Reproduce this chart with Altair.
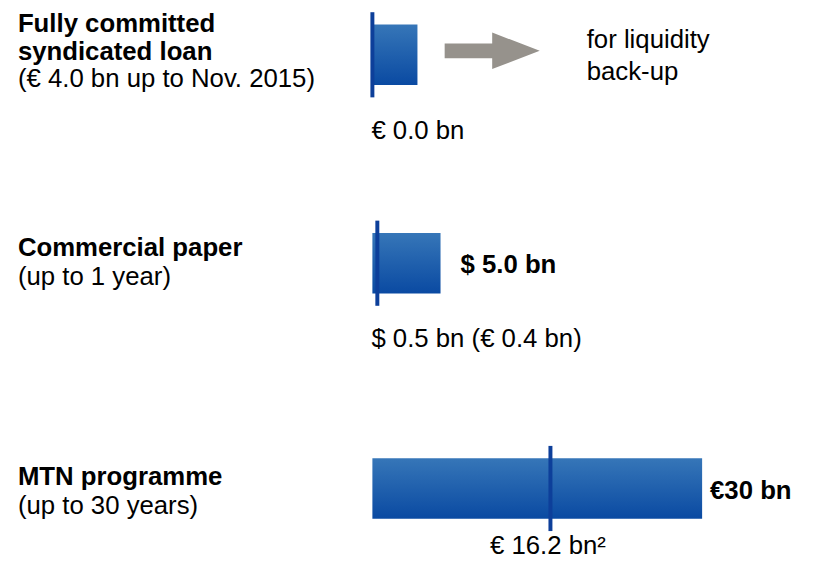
import altair as alt
import pandas as pd

# ---- data (bar units: € bn-equivalent as drawn) ----
facilities = ["Syndicated loan", "Commercial paper", "MTN programme"]
facility_limit = [4.1, 6.2, 30.0]
facility_used = [0.0, 0.45, 16.2]
title_lines = [["Fully committed", "syndicated loan"], ["Commercial paper"], ["MTN programme"]]
subtitles = ["(€ 4.0 bn up to Nov. 2015)", "(up to 1 year)", "(up to 30 years)"]
limit_labels = ["", "$ 5.0 bn", "€30 bn"]
used_labels = ["€ 0.0 bn", "$ 0.5 bn (€ 0.4 bn)", "€ 16.2 bn²"]
note_lines = ["for liquidity", "back-up"]

FONT = "Liberation Sans"
FS = 26
BAR_TOP = "#3676b8"
BAR_BOTTOM = "#0a4aa2"
MARK_COLOR = "#0d3f9a"
ARROW_COLOR = "#96928c"
TEXT = dict(color="#000000")

xscale = alt.Scale(domain=[0, 30], range=[368, 701], nice=False, zero=True)
gradient = alt.Gradient(
    gradient="linear",
    stops=[alt.GradientStop(color=BAR_TOP, offset=0), alt.GradientStop(color=BAR_BOTTOM, offset=1)],
    x1=1, x2=1, y1=0, y2=1,
)

# per-row layout (pixel offsets relative to each bar's centre)
layout = [
    dict(h=87, title_dy=-23.5, sub_dy=32.5, used_dy=85, used_at="start", used_dx=-1, limit_dy=11, lim_px=0),
    dict(h=334, title_dy=-7, sub_dy=22, used_dy=85, used_at="start", used_dx=-1, limit_dy=10, lim_px=457),
    dict(h=121, title_dy=-3.5, sub_dy=25.5, used_dy=66, used_at="marker", used_dx=-2.5, limit_dy=11, lim_px=709),
]

panels = []
for i, name in enumerate(facilities):
    L = layout[i]
    df = pd.DataFrame({
        "facility": [name],
        "limit": [facility_limit[i]],
        "used": [facility_used[i]],
        "title": [title_lines[i]],
        "subtitle": [subtitles[i]],
        "limit_label": [limit_labels[i]],
        "used_label": [used_labels[i]],
        "note": [note_lines if i == 0 else [""]],
    })
    y = alt.Y("facility:N", axis=None, scale=alt.Scale(paddingInner=0, paddingOuter=0))
    base = alt.Chart(df)

    layers = [
        base.mark_bar(size=61, color=gradient).encode(
            x=alt.X("limit:Q", scale=xscale, axis=None), y=y),
        base.mark_tick(size=86, thickness=4, color=MARK_COLOR, opacity=1).encode(
            x=alt.X("used:Q", scale=xscale, axis=None), y=y),
        base.mark_text(align="left", baseline="alphabetic", font=FONT, fontSize=FS, fontWeight="bold",
                       lineHeight=29, dy=L["title_dy"], **TEXT).encode(
            x=alt.value(10), y=y, text="title:N"),
        base.mark_text(align="left", baseline="alphabetic", font=FONT, fontSize=FS,
                       dy=L["sub_dy"], **TEXT).encode(
            x=alt.value(10), y=y, text="subtitle:N"),
    ]

    if L["used_at"] == "start":
        layers.append(base.mark_text(align="left", baseline="alphabetic", font=FONT, fontSize=FS,
                                     dx=L["used_dx"], dy=L["used_dy"], **TEXT).encode(
            x=alt.datum(0, scale=xscale), y=y, text="used_label:N"))
    else:
        layers.append(base.mark_text(align="center", baseline="alphabetic", font=FONT, fontSize=FS,
                                     dx=L["used_dx"], dy=L["used_dy"], **TEXT).encode(
            x=alt.X("used:Q", scale=xscale, axis=None), y=y, text="used_label:N"))

    if limit_labels[i]:
        layers.append(base.mark_text(align="left", baseline="alphabetic", font=FONT, fontSize=FS,
                                     fontWeight="bold", dy=L["limit_dy"], **TEXT).encode(
            x=alt.value(L["lim_px"]), y=y, text="limit_label:N"))

    if i == 0:
        arrow_path = "M-1,-0.156L0,-0.156L0,-0.385L1,0L0,0.385L0,0.156L-1,0.156Z"
        layers.append(base.mark_point(shape=arrow_path, size=96 * 96, filled=True, color=ARROW_COLOR,
                                      opacity=1, strokeWidth=0, yOffset=-4).encode(
            x=alt.datum(10.9, scale=xscale), y=y))
        layers.append(base.mark_text(align="left", baseline="alphabetic", font=FONT, fontSize=FS,
                                     lineHeight=32, dy=-6.5, **TEXT).encode(
            x=alt.datum(19.5, scale=xscale), y=y, text="note:N"))

    panels.append(alt.layer(*layers).properties(width=815, height=L["h"]))

chart = alt.vconcat(*panels, spacing=0, bounds="flush").properties(
    padding=0
).configure_view(strokeWidth=0)

chart.save("out.html", embed_options={"renderer": "svg", "actions": False})
